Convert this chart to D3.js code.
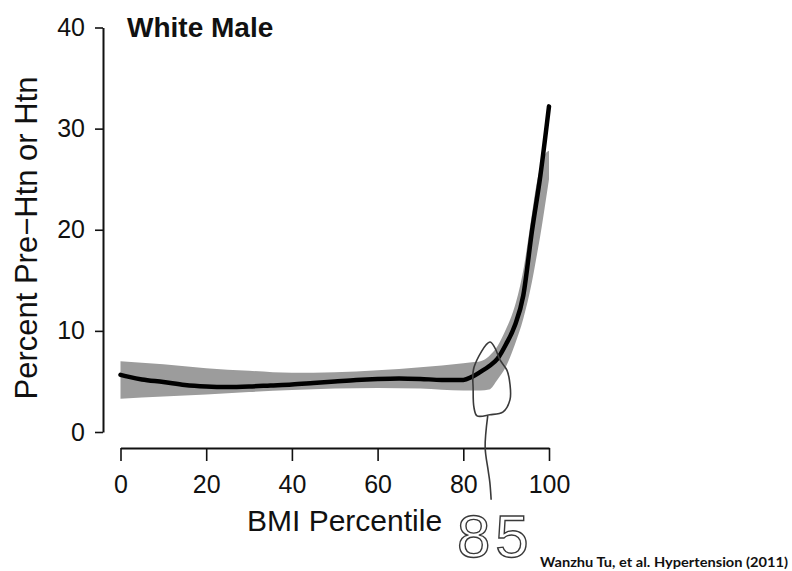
<!DOCTYPE html>
<html>
<head>
<meta charset="utf-8">
<script src="https://cdn.jsdelivr.net/npm/d3@7"></script>
<style>
  body { margin: 0; background: #fff; }
  svg { display: block; }
</style>
</head>
<body>
<div id="chart"></div>
<script>
// fitted curve (percent pre-htn or htn by BMI percentile)
const pctX = [0, 2, 5, 10, 15, 20, 25, 30, 35, 40, 45, 50, 55, 60, 65, 70, 75, 80, 82, 84, 86, 88, 90, 92, 94, 96, 98, 100];
const pctY = [5.65, 5.45, 5.2, 4.95, 4.65, 4.5, 4.45, 4.5, 4.6, 4.7, 4.85, 5.0, 5.15, 5.25, 5.3, 5.25, 5.15, 5.15, 5.45, 5.95, 6.5, 7.25, 8.7, 10.5, 13.5, 19.8, 25.4, 32.2];

// grey confidence band
const bandX  = [0, 10, 20, 30, 40, 50, 60, 70, 80, 82, 84, 86, 88, 90, 92, 94, 96, 97, 98, 99, 100];
const bandLo = [3.3, 3.5, 3.7, 3.95, 4.15, 4.3, 4.35, 4.3, 4.1, 4.1, 4.1, 4.2, 5.2, 6.5, 8.6, 11.2, 14.8, 17.1, 19.5, 22.2, 25.0];
const bandHi = [7.0, 6.7, 6.3, 6.05, 5.85, 5.9, 6.1, 6.4, 6.8, 6.9, 7.0, 7.5, 8.5, 10.2, 12.4, 16.0, 21.5, 24.3, 26.2, 27.4, 27.8];

// axis ticks
const xTicks = [0, 20, 40, 60, 80, 100];
const yTicks = [0, 10, 20, 30, 40];

// hand drawn note around the 85th percentile (in data units)
const loopX = [82.5, 86.2, 87.4, 88.6, 90.2, 90.9, 90.9, 89.3, 86.2, 83.2, 82.5, 82.3];
const loopY = [6.4, 8.9, 8.3, 7.1, 6.1, 4.7, 3.2, 2.0, 1.7, 1.6, 2.4, 4.2];
const stemX = [85.7, 85.1, 85.8, 86.2, 86.5];
const stemY = [1.6, -1.5, -3.8, -5.0, -6.7];

const width = 792, height = 571;
const font = "'Liberation Sans', Arial, sans-serif";

const svg = d3.select("#chart").append("svg")
    .attr("width", width)
    .attr("height", height);

const x = d3.scaleLinear().domain([0, 100]).range([120.5, 549]);
const y = d3.scaleLinear().domain([0, 40]).range([432, 27.5]);

// y axis
const yAxis = svg.append("g")
    .attr("transform", "translate(103,0)")
    .call(d3.axisLeft(y).tickValues(yTicks).tickSizeOuter(0).tickSizeInner(8).tickPadding(10));
// x axis
const xAxis = svg.append("g")
    .attr("transform", "translate(0,448)")
    .call(d3.axisBottom(x).tickValues(xTicks).tickSizeOuter(0).tickSizeInner(13).tickPadding(14));

[yAxis, xAxis].forEach(function(g) {
    g.select(".domain").attr("stroke", "#111").attr("stroke-width", 2);
    g.selectAll(".tick line").attr("stroke", "#111").attr("stroke-width", 1.6);
    g.selectAll(".tick text")
        .attr("fill", "#111")
        .style("font-family", font)
        .style("font-size", "25px");
});

// band
const bandData = bandX.map(function(d, i) { return {x: d, lo: bandLo[i], hi: bandHi[i]}; });
svg.append("path")
    .datum(bandData)
    .attr("fill", "#9c9c9c")
    .attr("d", d3.area()
        .x(function(d) { return x(d.x); })
        .y0(function(d) { return y(d.lo); })
        .y1(function(d) { return y(d.hi); })
        .curve(d3.curveMonotoneX));

// fitted line
const lineData = pctX.map(function(d, i) { return {x: d, y: pctY[i]}; });
svg.append("path")
    .datum(lineData)
    .attr("fill", "none")
    .attr("stroke", "#000")
    .attr("stroke-width", 4.5)
    .attr("stroke-linecap", "round")
    .attr("d", d3.line()
        .x(function(d) { return x(d.x); })
        .y(function(d) { return y(d.y); })
        .curve(d3.curveMonotoneX));

// handwritten circle + stem
const loopData = loopX.map(function(d, i) { return [x(d), y(loopY[i])]; });
svg.append("path")
    .attr("fill", "none")
    .attr("stroke", "#3a3a3a")
    .attr("stroke-width", 1.6)
    .attr("d", d3.line().curve(d3.curveCatmullRomClosed)(loopData));
const stemData = stemX.map(function(d, i) { return [x(d), y(stemY[i])]; });
svg.append("path")
    .attr("fill", "none")
    .attr("stroke", "#3a3a3a")
    .attr("stroke-width", 1.6)
    .attr("d", d3.line().curve(d3.curveCatmullRom)(stemData));

// titles
svg.append("text")
    .attr("x", 127).attr("y", 37)
    .style("font-family", font)
    .style("font-weight", "bold")
    .style("font-size", "28px")
    .attr("fill", "#111")
    .text("White Male");

svg.append("text")
    .attr("transform", "translate(37,238) rotate(-90)")
    .attr("text-anchor", "middle")
    .style("font-family", font)
    .style("font-size", "31px")
    .attr("fill", "#111")
    .text("Percent Pre\u2212Htn or Htn");

svg.append("text")
    .attr("x", 247).attr("y", 531)
    .style("font-family", font)
    .style("font-size", "30px")
    .attr("fill", "#111")
    .text("BMI Percentile");

// handwritten 85
svg.append("text")
    .attr("x", 457).attr("y", 557)
    .style("font-family", font)
    .style("font-size", "60px")
    .style("letter-spacing", "5px")
    .attr("fill", "none")
    .attr("stroke", "#3a3a3a")
    .attr("stroke-width", 1.4)
    .text("85");

svg.append("text")
    .attr("x", 540).attr("y", 567)
    .attr("textLength", 248)
    .attr("lengthAdjust", "spacingAndGlyphs")
    .style("font-family", "Lato, 'Open Sans', sans-serif")
    .style("font-weight", "bold")
    .style("font-size", "14px")
    .attr("fill", "#111")
    .text("Wanzhu Tu, et al. Hypertension (2011)");
</script>
</body>
</html>
